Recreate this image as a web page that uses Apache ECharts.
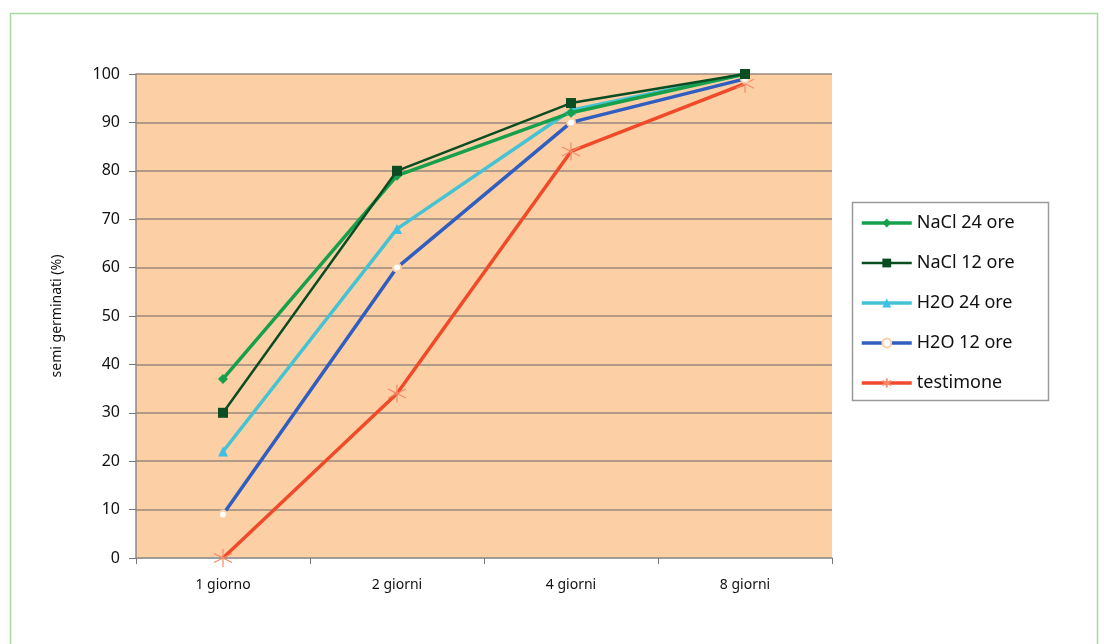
<!DOCTYPE html>
<html>
<head>
<meta charset="utf-8">
<script src="https://cdn.jsdelivr.net/npm/echarts@6/dist/echarts.min.js"></script>
<style>
html,body{margin:0;padding:0;background:#fff;}
#c{width:1104px;height:644px;}
</style>
</head>
<body>
<div id="c"></div>
<script>
const categories = ['1 giorno', '2 giorni', '4 giorni', '8 giorni'];
const nacl24 = [37, 79, 92, 100];
const nacl12 = [30, 80, 94, 100];
const h2o24 = [22, 68, 92.5, 100];
const h2o12 = [9, 60, 90, 99];
const testimone = [0, 34, 84, 98];
const yTicks = [0, 10, 20, 30, 40, 50, 60, 70, 80, 90, 100];

const FONT = '"Noto Sans", sans-serif';
const star = 'path://M0,-10L0,10M-8.66,-5L8.66,5M-8.66,5L8.66,-5';

const chart = echarts.init(document.getElementById('c'), null, {renderer: 'canvas'});
chart.setOption({
  animation: false,
  backgroundColor: '#ffffff',
  graphic: [
    {type: 'rect', shape: {x: 10.5, y: 13.5, width: 1087, height: 660},
     style: {fill: 'none', stroke: '#a8d9a0', lineWidth: 1.5}, z: 0},
    {type: 'rect', shape: {x: 852.5, y: 202.5, width: 196, height: 198},
     style: {fill: '#ffffff', stroke: '#9a9a9a', lineWidth: 1.5}, z: 1}
  ],
  grid: {left: 136, top: 74, right: 272, bottom: 86, show: true,
         backgroundColor: '#fccfa4', borderWidth: 0},
  legend: {
    orient: 'vertical', left: 852, top: 202,
    padding: [11, 8, 7, 8],
    itemWidth: 50, itemHeight: 11, itemGap: 20,
    lineStyle: {width: 'inherit'},
    textStyle: {fontFamily: FONT, fontSize: 18, lineHeight: 20, color: '#111'},
    z: 5,
    data: ['NaCl 24 ore', 'NaCl 12 ore', 'H2O 24 ore', 'H2O 12 ore', 'testimone']
  },
  xAxis: {
    type: 'category', data: categories, boundaryGap: true,
    axisLine: {show: true, lineStyle: {color: '#9a9a9a', width: 1.5}},
    axisTick: {show: true, length: 6, lineStyle: {color: '#777'}},
    axisLabel: {fontFamily: FONT, fontSize: 14, color: '#111', margin: 20}
  },
  yAxis: {
    type: 'value', min: 0, max: 100, interval: 10,
    name: 'semi germinati (%)', nameLocation: 'middle', nameGap: 72, nameRotate: 90,
    nameTextStyle: {fontFamily: FONT, fontSize: 14, color: '#111'},
    axisLine: {show: true, lineStyle: {color: '#8a8a8a', width: 1.5}},
    axisTick: {show: true, length: 7, lineStyle: {color: '#777'}},
    axisLabel: {fontFamily: FONT, fontSize: 16, color: '#111', margin: 16,
                formatter: v => yTicks.includes(v) ? String(v) : ''},
    splitLine: {show: true, lineStyle: {color: '#9a8a7c', width: 1.5}}
  },
  series: [
    {name: 'testimone', type: 'line', data: testimone, z: 2,
     lineStyle: {color: '#f04a2a', width: 3.5}, itemStyle: {color: '#f48a6a', borderColor: '#f48a6a', borderWidth: 1.2},
     symbol: star, symbolSize: 18, showSymbol: true},
    {name: 'H2O 12 ore', type: 'line', data: h2o12, z: 3,
     lineStyle: {color: '#2f5ec0', width: 3.5}, itemStyle: {color: '#fccfa4', borderColor: '#8c86c8', borderWidth: 1.2},
     symbol: 'emptyCircle', symbolSize: 8},
    {name: 'H2O 24 ore', type: 'line', data: h2o24, z: 4,
     lineStyle: {color: '#44c3d4', width: 3.5}, itemStyle: {color: '#3cc0e6'},
     symbol: 'triangle', symbolSize: 10},
    {name: 'NaCl 12 ore', type: 'line', data: nacl12, z: 5,
     lineStyle: {color: '#0b4d22', width: 2.5}, itemStyle: {color: '#0b4d22'},
     symbol: 'rect', symbolSize: 10},
    {name: 'NaCl 24 ore', type: 'line', data: nacl24, z: 4,
     lineStyle: {color: '#16a04c', width: 3.5}, itemStyle: {color: '#16a04c'},
     symbol: 'diamond', symbolSize: 10}
  ]
});
</script>
</body>
</html>
